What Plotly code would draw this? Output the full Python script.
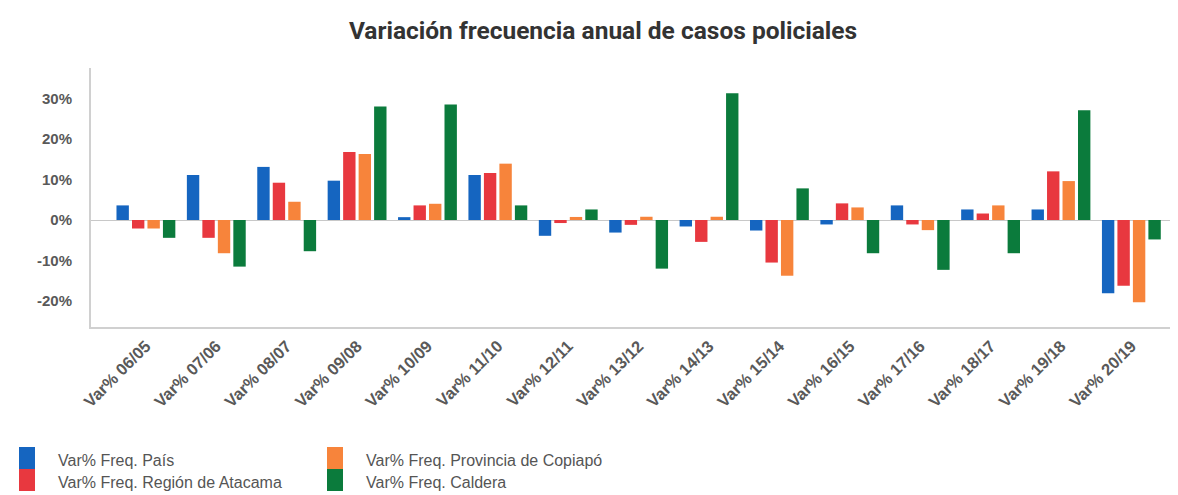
import plotly.graph_objects as go

categories = ["Var% 06/05", "Var% 07/06", "Var% 08/07", "Var% 09/08", "Var% 10/09",
              "Var% 11/10", "Var% 12/11", "Var% 13/12", "Var% 14/13", "Var% 15/14",
              "Var% 16/15", "Var% 17/16", "Var% 18/17", "Var% 19/18", "Var% 20/19"]

pais = [3.6, 11.1, 13.1, 9.7, 0.7, 11.1, -3.9, -3.1, -1.6, -2.6, -1.1, 3.6, 2.6, 2.6, -18.1]
region = [-2.1, -4.4, 9.2, 16.8, 3.6, 11.6, -0.75, -1.2, -5.4, -10.5, 4.1, -1.1, 1.6, 12.0, -16.2]
provincia = [-2.1, -8.2, 4.5, 16.3, 4.0, 13.9, 0.75, 0.8, 0.8, -13.75, 3.1, -2.5, 3.6, 9.6, -20.3]
caldera = [-4.4, -11.5, -7.7, 28.0, 28.5, 3.6, 2.6, -12.0, 31.3, 7.8, -8.2, -12.3, -8.2, 27.1, -4.8]

series_names = ["Var% Freq. País", "Var% Freq. Región de Atacama",
                "Var% Freq. Provincia de Copiapó", "Var% Freq. Caldera"]
series_values = [pais, region, provincia, caldera]
colors = ["#1565C0", "#E8383F", "#F7843B", "#0B7B3C"]

y_ticks = [-20, -10, 0, 10, 20, 30]

# page body adds an 8px offset; all pixel positions below are figure pixels
OFF = 8
W, H = 1178, 495
ML, MR, MT, MB = 91 - OFF, 3 + OFF, 68 - OFF, 168 + OFF
PW, PH = W - ML - MR, H - MT - MB


def px2x(px):
    return (px - OFF - ML) / PW


def px2y(py):
    return (H - MB - (py - OFF)) / PH


fig = go.Figure()
for name, vals, col in zip(series_names, series_values, colors):
    fig.add_trace(go.Bar(x=categories, y=vals, name=name, marker_color=col,
                         marker_line_width=0, showlegend=False))

# manual legend (two columns of two entries, swatches stacked)
legend_cols = [19, 327]
legend_rows = [447, 469]
SW, SH = 16, 22
shapes = []
annotations = []
for i, (name, col) in enumerate(zip(series_names, colors)):
    cx = legend_cols[i // 2]
    ry = legend_rows[i % 2]
    shapes.append(dict(type="rect", xref="paper", yref="paper",
                       x0=px2x(cx), x1=px2x(cx + SW), y0=px2y(ry), y1=px2y(ry + SH),
                       fillcolor=col, line_width=0, layer="above"))
    annotations.append(dict(text=name, xref="paper", yref="paper",
                            x=px2x(cx + 37), y=px2y(ry + 13), xanchor="left", yanchor="middle",
                            showarrow=False,
                            font=dict(family="Liberation Sans, Arial", size=16, color="#555555")))

tick_font = dict(family="Liberation Sans, Arial", size=15, color="#595959", weight="bold")

fig.update_layout(
    width=W, height=H,
    margin=dict(l=ML, r=MR, t=MT, b=MB, autoexpand=False),
    paper_bgcolor="white", plot_bgcolor="white",
    showlegend=False,
    barmode="group", bargap=0.12, bargroupgap=0.2,
    title=dict(text="Variación frecuencia anual de casos policiales",
               x=(603 - OFF) / W, xanchor="center", y=1 - (30 - OFF) / H, yanchor="middle",
               font=dict(family="Roboto", size=24.5, color="#333333", weight="bold")),
    shapes=shapes,
    annotations=annotations,
    xaxis=dict(type="category", range=[-0.78, 14.62], tickangle=-45,
               showline=True, linecolor="#D0D0D0", linewidth=2,
               showgrid=False, ticks="", tickfont=dict(tick_font, size=16.5),
               ticklabelstandoff=1),
    yaxis=dict(range=[-26.4, 37.5], tickvals=y_ticks,
               ticktext=[f"{v}%" for v in y_ticks],
               showline=True, linecolor="#D0D0D0", linewidth=2,
               showgrid=False, zeroline=True, zerolinecolor="#C8C8C8", zerolinewidth=1,
               ticks="", tickfont=tick_font, ticklabelstandoff=14),
)

fig.write_html("out.html")
